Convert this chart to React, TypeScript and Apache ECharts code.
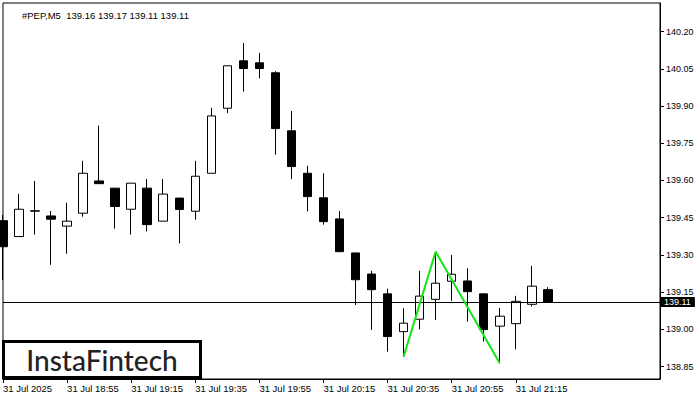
import React, { useEffect, useRef } from "react";
import * as echarts from "echarts";

const symbolTitle = "#PEP,M5  139.16 139.17 139.11 139.11";
const dateLabel = "31 Jul";
const firstLabel = "31 Jul 2025";

const times = ["18:35","18:40","18:45","18:50","18:55","19:00","19:05","19:10","19:15","19:20","19:25","19:30","19:35","19:40","19:45","19:50","19:55","20:00","20:05","20:10","20:15","20:20","20:25","20:30","20:35","20:40","20:45","20:50","20:55","21:00","21:05","21:10","21:15","21:20","21:25"];
const emptySlots = ["21:30","21:35","21:40","21:45","21:50","21:55","22:00"];

const opens = [139.438,139.374,139.476,139.457,139.416,139.468,139.598,139.569,139.484,139.569,139.436,139.529,139.476,139.629,139.891,140.082,140.074,140.034,139.800,139.629,139.530,139.445,139.308,139.223,139.143,138.991,139.041,139.121,139.194,139.195,139.143,139.013,139.023,139.101,139.16];
const closes = [139.333,139.484,139.478,139.444,139.436,139.629,139.587,139.495,139.589,139.422,139.545,139.483,139.617,139.860,140.062,140.051,140.051,139.809,139.656,139.535,139.434,139.313,139.200,139.160,138.971,139.025,139.134,139.186,139.222,139.152,138.999,139.053,139.113,139.174,139.11];
const lows = [139.199,139.374,139.382,139.260,139.305,139.454,139.587,139.406,139.382,139.394,139.436,139.346,139.442,139.629,139.871,139.958,140.011,139.704,139.605,139.475,139.422,139.313,139.098,138.998,138.910,138.890,139.000,139.038,139.115,139.031,138.951,138.863,138.920,139.092,139.11];
const highs = [139.461,139.546,139.598,139.477,139.510,139.679,139.821,139.569,139.589,139.606,139.606,139.529,139.679,139.893,140.062,140.154,140.114,140.040,139.880,139.659,139.629,139.477,139.308,139.236,139.164,139.085,139.236,139.313,139.300,139.246,139.143,139.086,139.135,139.256,139.17];

const patternIdx = [25, 27, 31];
const patternVal = [138.890, 139.313, 138.863];

const yTicks = [138.85, 139.0, 139.15, 139.3, 139.45, 139.6, 139.75, 139.9, 140.05, 140.2];
const lastPrice = 139.11;

const FONT = "'Liberation Sans', Arial, sans-serif";

export default function App() {
  const ref = useRef<HTMLDivElement>(null);
  useEffect(() => {
    document.body.style.margin = "0";
    if (!ref.current) return;
    const chart = echarts.init(ref.current, undefined, { renderer: "svg" });
    const categories = [...times, ...emptySlots];
    const candleData = opens.map((o, i) => [o, closes[i], lows[i], highs[i]]);
    const showIdx = (index: number) => index % 4 === 0 && index < times.length;
    chart.setOption({
      animation: false,
      backgroundColor: "#ffffff",
      textStyle: { fontFamily: FONT },
      title: {
        text: symbolTitle,
        left: 17,
        top: 5,
        textStyle: { fontSize: 9.5, fontWeight: "normal", color: "#000", fontFamily: FONT },
      },
      grid: {
        left: 3,
        right: 40,
        top: 3,
        bottom: 21,
        show: true,
        borderColor: "#000",
        borderWidth: 1,
        backgroundColor: "#fff",
      },
      xAxis: {
        type: "category",
        data: categories,
        boundaryGap: false,
        axisLine: { show: true, lineStyle: { color: "#000" } },
        axisTick: { show: true, interval: (i: number) => showIdx(i), length: 4, lineStyle: { color: "#000" } },
        axisLabel: {
          interval: (i: number) => showIdx(i),
          align: "left",
          margin: 4,
          fontSize: 9.5,
          color: "#000",
          fontFamily: FONT,
          formatter: (v: string, i: number) => (i === 0 ? firstLabel : `${dateLabel} ${v}`),
        },
        splitLine: { show: false },
      },
      yAxis: {
        type: "value",
        position: "right",
        min: 138.8,
        max: 140.315,
        scale: true,
        axisLine: { show: true, lineStyle: { color: "#000" } },
        axisTick: { show: true, length: 4, customValues: yTicks, lineStyle: { color: "#000" } },
        axisLabel: {
          customValues: yTicks,
          margin: 6,
          fontSize: 9,
          color: "#000",
          fontFamily: FONT,
          formatter: (v: number) => v.toFixed(2),
        },
        splitLine: { show: false },
      },
      series: [
        {
          type: "candlestick",
          data: candleData,
          barWidth: 9,
          clip: true,
          itemStyle: {
            color: "#ffffff",
            color0: "#000000",
            borderColor: "#000000",
            borderColor0: "#000000",
            borderWidth: 1,
          },
          markLine: {
            silent: true,
            symbol: "none",
            lineStyle: { color: "#000", width: 1, type: "solid" },
            label: {
              show: true,
              position: "end",
              distance: 1,
              formatter: lastPrice.toFixed(2),
              backgroundColor: "#000",
              color: "#fff",
              fontSize: 9,
              fontFamily: FONT,
              padding: [1, 4, 0, 3],
            },
            data: [{ yAxis: lastPrice }],
          },
        },
        {
          type: "line",
          data: patternIdx.map((x, i) => [x, patternVal[i]]),
          symbol: "none",
          lineStyle: { color: "#11e611", width: 2 },
          z: 5,
        },
      ],
      graphic: [
        {
          type: "group",
          z: 100,
          children: [
            {
              type: "rect",
              shape: { x: 3.5, y: 341.5, width: 197, height: 36 },
              style: { fill: "#fff", stroke: "#000", lineWidth: 3 },
            },
            {
              type: "text",
              x: 102,
              y: 360,
              style: {
                text: "InstaFintech",
                font: "500 28px Lato, 'Noto Sans', sans-serif",
                fill: "#222",
                align: "center",
                verticalAlign: "middle",
              },
            },
          ],
        },
      ],
    });
    return () => chart.dispose();
  }, []);
  return <div ref={ref} style={{ width: 700, height: 400 }} />;
}
